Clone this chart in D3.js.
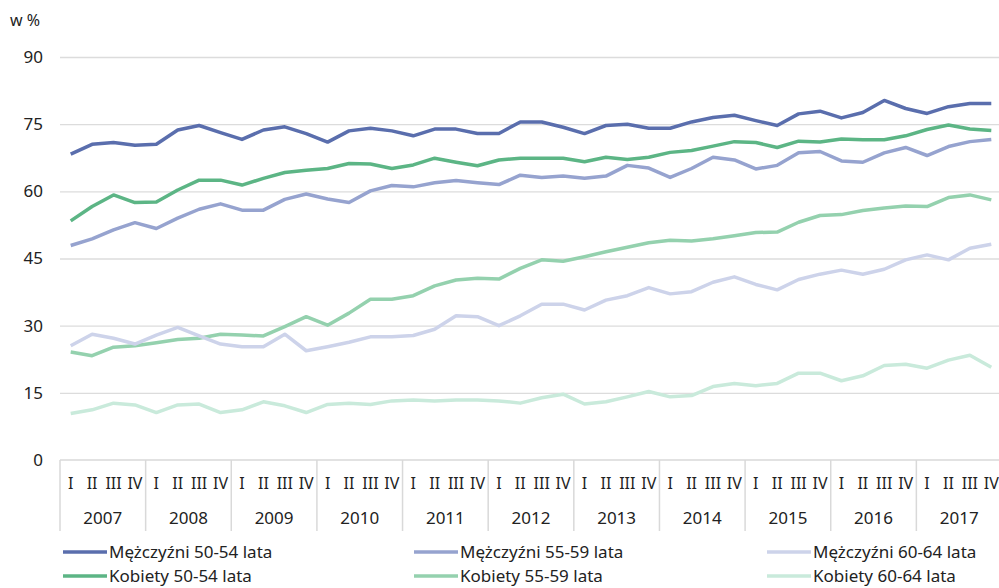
<!DOCTYPE html>
<html>
<head>
<meta charset="utf-8">
<script src="https://cdn.jsdelivr.net/npm/d3@7"></script>
<style>
  body { margin: 0; background: #fff; }
  svg text { font-family: "Noto Sans", "Open Sans", sans-serif; fill: #222; }
</style>
</head>
<body>
<div id="chart"></div>
<script>
// years and quarters on the category axis
var years = ["2007", "2008", "2009", "2010", "2011", "2012", "2013", "2014", "2015", "2016", "2017"];
var quarters = ["I", "II", "III", "IV"];
var yTicks = [0, 15, 30, 45, 60, 75, 90];

// series values, one per quarter (2007 I ... 2017 IV)
var men5054 = [68.3, 70.5, 70.9, 70.3, 70.5, 73.7, 74.7, 73.1, 71.6, 73.7, 74.4, 72.9, 71.0, 73.5, 74.1, 73.5,
  72.4, 73.9, 73.9, 72.9, 72.9, 75.5, 75.5, 74.3, 72.9, 74.7, 75.0, 74.1, 74.1, 75.5, 76.5, 77.0,
  75.8, 74.7, 77.3, 77.9, 76.4, 77.6, 80.3, 78.5, 77.4, 78.9, 79.6, 79.6];
var men5559 = [47.9, 49.4, 51.4, 53.0, 51.7, 54.0, 56.0, 57.2, 55.8, 55.8, 58.2, 59.4, 58.3, 57.5, 60.1, 61.3,
  61.0, 61.9, 62.4, 61.9, 61.5, 63.6, 63.1, 63.4, 62.9, 63.4, 65.8, 65.2, 63.1, 65.1, 67.6, 67.0,
  65.0, 65.8, 68.6, 68.9, 66.8, 66.5, 68.6, 69.8, 68.0, 70.0, 71.1, 71.6];
var men6064 = [25.5, 28.1, 27.2, 25.9, 27.9, 29.6, 27.7, 25.9, 25.3, 25.3, 28.1, 24.4, 25.3, 26.3, 27.5, 27.5,
  27.8, 29.2, 32.2, 32.0, 30.0, 32.2, 34.8, 34.8, 33.5, 35.7, 36.7, 38.5, 37.1, 37.6, 39.7, 40.9,
  39.2, 38.0, 40.3, 41.5, 42.4, 41.5, 42.6, 44.7, 45.8, 44.7, 47.3, 48.2];
var women5054 = [53.4, 56.6, 59.2, 57.5, 57.6, 60.3, 62.5, 62.5, 61.4, 62.9, 64.2, 64.7, 65.1, 66.2, 66.1, 65.1,
  65.9, 67.4, 66.5, 65.7, 67.0, 67.4, 67.4, 67.4, 66.6, 67.6, 67.1, 67.6, 68.7, 69.1, 70.1, 71.1,
  70.9, 69.8, 71.2, 71.0, 71.7, 71.5, 71.5, 72.4, 73.8, 74.8, 73.9, 73.6];
var women5559 = [24.1, 23.3, 25.2, 25.5, 26.2, 26.9, 27.2, 28.1, 27.9, 27.7, 29.8, 32.0, 30.1, 32.8, 35.9, 35.9,
  36.7, 38.9, 40.2, 40.6, 40.4, 42.8, 44.7, 44.4, 45.4, 46.5, 47.5, 48.5, 49.1, 48.9, 49.4, 50.1,
  50.8, 50.9, 53.1, 54.6, 54.8, 55.7, 56.3, 56.7, 56.6, 58.6, 59.2, 58.1];
var women6064 = [10.4, 11.2, 12.7, 12.3, 10.6, 12.3, 12.5, 10.6, 11.2, 13.0, 12.1, 10.6, 12.4, 12.7, 12.4, 13.2,
  13.4, 13.2, 13.4, 13.4, 13.2, 12.7, 13.9, 14.7, 12.5, 13.0, 14.1, 15.3, 14.1, 14.4, 16.4, 17.1,
  16.6, 17.1, 19.4, 19.4, 17.7, 18.8, 21.1, 21.4, 20.5, 22.3, 23.4, 20.7];

var seriesNames = ["Mężczyźni 50-54 lata", "Mężczyźni 55-59 lata", "Mężczyźni 60-64 lata",
  "Kobiety 50-54 lata", "Kobiety 55-59 lata", "Kobiety 60-64 lata"];
var seriesValues = [men5054, men5559, men6064, women5054, women5559, women6064];
var colors = ["#5a6ead", "#96a3cf", "#cdd3ea", "#5cb585", "#94d1ae", "#c9eadb"];

var W = 999, H = 588;
var margin = {left: 60, right: 1002, top: 57, bottom: 460};

var svg = d3.select("#chart").append("svg")
  .attr("width", W).attr("height", H);

// one slot per quarter
var slots = [];
years.forEach(function (yr) {
  quarters.forEach(function (q) { slots.push(yr + "-" + q); });
});

var x = d3.scaleBand().domain(slots).range([margin.left, margin.right]);
var xYear = d3.scaleBand().domain(years).range([margin.left, margin.right]);
var y = d3.scaleLinear().domain([0, 90]).range([margin.bottom, margin.top]);

// grid lines
svg.append("g")
  .attr("transform", "translate(" + margin.left + ",0)")
  .call(d3.axisLeft(y).tickValues(yTicks.slice(1)).tickSize(-(margin.right - margin.left)).tickFormat(""))
  .call(function (g) { g.select(".domain").remove(); })
  .selectAll("line")
    .attr("stroke", "#dcdcdc").attr("stroke-width", 1.3);

// y labels
svg.selectAll(".ylab")
  .data(yTicks)
  .enter().append("text")
    .attr("x", 43)
    .attr("y", function (d) { return y(d); })
    .attr("dy", "0.35em")
    .attr("text-anchor", "end")
    .style("font-size", "17px")
    .text(function (d) { return d; });

svg.append("text")
  .attr("x", 10).attr("y", 26)
  .style("font-size", "16px")
  .text("w %");

// category axis: year separators
svg.selectAll(".sep")
  .data(years.concat(["end"]))
  .enter().append("line")
    .attr("x1", function (d, i) { return margin.left + i * xYear.bandwidth(); })
    .attr("x2", function (d, i) { return margin.left + i * xYear.bandwidth(); })
    .attr("y1", margin.bottom).attr("y2", 531)
    .attr("stroke", "#d9d9d9").attr("stroke-width", 1.5);

svg.append("line")
  .attr("x1", margin.left).attr("x2", margin.right)
  .attr("y1", margin.bottom).attr("y2", margin.bottom)
  .attr("stroke", "#d9d9d9").attr("stroke-width", 1.5);

svg.selectAll(".qlab")
  .data(slots)
  .enter().append("text")
    .attr("x", function (d) { return x(d) + x.bandwidth() / 2; })
    .attr("y", 489)
    .attr("text-anchor", "middle")
    .style("font-size", "16px")
    .text(function (d) { return d.split("-")[1]; });

svg.selectAll(".yearlab")
  .data(years)
  .enter().append("text")
    .attr("x", function (d) { return xYear(d) + xYear.bandwidth() / 2; })
    .attr("y", 524)
    .attr("text-anchor", "middle")
    .style("font-size", "17px")
    .text(function (d) { return d; });

// lines
var line = d3.line()
  .x(function (d, i) { return x(slots[i]) + x.bandwidth() / 2; })
  .y(function (d) { return y(d); });

// draw lighter series first, then darker on top
[5, 4, 2, 1, 3, 0].forEach(function (k) {
  svg.append("path")
    .datum(seriesValues[k])
    .attr("fill", "none")
    .attr("stroke", colors[k])
    .attr("stroke-width", 3.5)
    .attr("stroke-linejoin", "round")
    .attr("d", line);
});

// legend
var legX = [63, 414, 767], legY = [552, 576];
seriesNames.forEach(function (name, k) {
  var col = k % 3, row = Math.floor(k / 3);
  var g = svg.append("g").attr("transform", "translate(" + legX[col] + "," + legY[row] + ")");
  g.append("line")
    .attr("x1", 0).attr("x2", 44).attr("y1", 0).attr("y2", 0)
    .attr("stroke", colors[k]).attr("stroke-width", 3.5);
  g.append("text")
    .attr("x", 46).attr("y", 0).attr("dy", "0.35em")
    .style("font-size", "17px")
    .text(name);
});
</script>
</body>
</html>
